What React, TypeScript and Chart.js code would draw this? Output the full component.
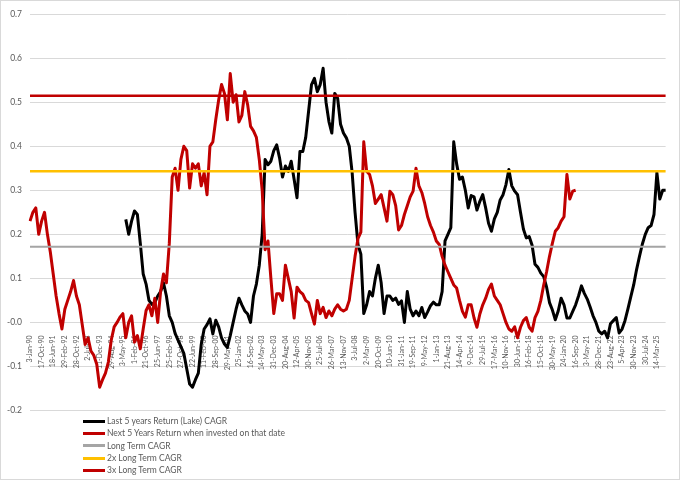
import React, { useEffect, useRef } from "react";
import { Chart, registerables } from "chart.js";

Chart.register(...registerables);

// one labelled date every STEPS points
const STEPS = 4;

const tickLabels = [
  "3-Jan-90", "17-Oct-90", "18-Jun-91", "29-Feb-92", "28-Oct-92", "2-Jul-93", "11-Dec-93", "29-Aug-94",
  "3-May-95", "1-Feb-96", "21-Oct-96", "25-Jun-97", "25-Feb-98", "27-Oct-98", "22-Jun-99", "11-Feb-00",
  "28-Sep-00", "29-May-01", "25-Jan-02", "16-Sep-02", "14-May-03", "31-Dec-03", "20-Aug-04", "12-Apr-05",
  "30-Nov-05", "25-Jul-06", "26-Mar-07", "13-Nov-07", "3-Jul-08", "2-Mar-09", "20-Oct-09", "10-Jun-10",
  "31-Jan-11", "19-Sep-11", "9-May-12", "1-Jan-13", "21-Aug-13", "14-Apr-14", "9-Dec-14", "29-Jul-15",
  "17-Mar-16", "10-Nov-16", "30-Jun-17", "16-Feb-18", "15-Oct-18", "30-May-19", "24-Jan-20", "16-Sep-20",
  "3-May-21", "28-Dec-21", "23-Aug-22", "5-Apr-23", "30-Nov-23", "30-Jul-24", "14-Mar-25",
];

// Last 5 years return (black), starts in 1995
const lastFiveYears: (number | null)[] = [
  ...Array(33).fill(null),
  0.234, 0.2, 0.23, 0.253, 0.245, 0.18, 0.11,
  0.087, 0.05, 0.041, 0.045, 0.06, 0.07, 0.09, 0.06, 0.015, 0.0,
  -0.025, -0.04, -0.055, -0.07, -0.105, -0.14, -0.147, -0.13, -0.115, -0.05,
  -0.015, -0.005, 0.008, -0.026, 0.005, -0.01, -0.035, -0.049, -0.057, -0.03,
  0.0, 0.03, 0.055, 0.04, 0.026, 0.019, 0.0, 0.06, 0.087, 0.13,
  0.2, 0.37, 0.358, 0.366, 0.39, 0.403, 0.373, 0.33, 0.355, 0.343,
  0.366, 0.325, 0.283, 0.388, 0.388, 0.42, 0.48, 0.54, 0.554, 0.524,
  0.54, 0.577, 0.5, 0.456, 0.43, 0.52, 0.509, 0.45, 0.43, 0.419,
  0.4, 0.34, 0.25, 0.177, 0.155, 0.02, 0.04, 0.07, 0.06, 0.1,
  0.13, 0.09, 0.02, 0.06, 0.06, 0.05, 0.055, 0.041, 0.049, 0.0,
  0.07, 0.03, 0.015, 0.026, 0.015, 0.034, 0.011, 0.024, 0.038, 0.046,
  0.04, 0.04, 0.07, 0.185, 0.2, 0.215, 0.41, 0.36, 0.325, 0.33,
  0.3, 0.26, 0.288, 0.285, 0.255, 0.275, 0.29, 0.26, 0.225, 0.207,
  0.235, 0.25, 0.278, 0.29, 0.313, 0.347, 0.31, 0.298, 0.29, 0.25,
  0.212, 0.192, 0.195, 0.175, 0.132, 0.125, 0.112, 0.104, 0.08, 0.045,
  0.028, 0.006, 0.026, 0.055, 0.04, 0.01, 0.01, 0.025, 0.04, 0.06,
  0.083, 0.066, 0.053, 0.035, 0.015, 0.0, -0.02, -0.026, -0.02, -0.035,
  -0.003, 0.004, 0.011, -0.024, -0.015, 0.004, 0.03, 0.058, 0.085, 0.12,
  0.15, 0.178, 0.2, 0.215, 0.22, 0.245, 0.34, 0.28, 0.3, 0.3,
];

// Next 5 years return (red), ends in 2020
const nextFiveYears: (number | null)[] = [
  0.23, 0.25, 0.26, 0.2, 0.23, 0.25, 0.2, 0.16, 0.11, 0.06,
  0.02, -0.015, 0.03, 0.05, 0.07, 0.095, 0.06, 0.04, -0.005, -0.05,
  -0.035, -0.065, -0.075, -0.095, -0.147, -0.13, -0.115, -0.09, -0.04, -0.01,
  0.0, 0.012, 0.02, -0.035, 0.0, 0.015, -0.045, -0.03, -0.06, -0.015,
  0.027, 0.04, 0.015, 0.055, 0.0, 0.07, 0.11, 0.09, 0.18, 0.33,
  0.35, 0.3, 0.37, 0.4, 0.39, 0.305, 0.36, 0.35, 0.36, 0.31,
  0.34, 0.29, 0.4, 0.41, 0.46, 0.505, 0.54, 0.52, 0.46, 0.565,
  0.5, 0.517, 0.455, 0.47, 0.524, 0.494, 0.445, 0.435, 0.42, 0.37,
  0.3, 0.165, 0.185, 0.1, 0.02, 0.065, 0.065, 0.05, 0.13, 0.1,
  0.07, 0.01, 0.08, 0.07, 0.064, 0.05, 0.045, 0.02, -0.004, 0.05,
  0.02, 0.034, 0.011, 0.026, 0.015, 0.03, 0.04, 0.03, 0.026, 0.03,
  0.05, 0.1, 0.15, 0.19, 0.205, 0.41, 0.343, 0.336, 0.31, 0.27,
  0.28, 0.29, 0.26, 0.23, 0.298, 0.29, 0.265, 0.21, 0.22, 0.245,
  0.265, 0.285, 0.298, 0.35, 0.31, 0.295, 0.27, 0.24, 0.22, 0.205,
  0.185, 0.177, 0.15, 0.13, 0.115, 0.1, 0.085, 0.078, 0.05, 0.025,
  0.012, 0.04, 0.04, 0.01, -0.011, 0.019, 0.04, 0.055, 0.075, 0.087,
  0.06, 0.05, 0.04, 0.02, 0.0, -0.015, -0.02, -0.01, -0.035, -0.011,
  0.004, 0.011, -0.011, -0.02, 0.011, 0.025, 0.05, 0.085, 0.115, 0.15,
  0.18, 0.207, 0.215, 0.23, 0.24, 0.336, 0.28, 0.298, 0.3,
  ...Array(31).fill(null),
];

const longTermCagr = 0.1715;

const seriesNames = [
  "Last 5 years Return (Lake) CAGR",
  "Next 5 Years Return when invested on that date",
  "Long Term CAGR",
  "2x Long Term CAGR",
  "3x Long Term CAGR",
];
const seriesColors = ["#000000", "#c00000", "#a5a5a5", "#ffc000", "#c00000"];

const FONT = "Lato, 'Open Sans', sans-serif";

export default function App() {
  const canvasRef = useRef<HTMLCanvasElement | null>(null);

  useEffect(() => {
    if (!canvasRef.current) return;
    const n = lastFiveYears.length;
    const labels = Array.from({ length: n }, (_, i) =>
      i % STEPS === 0 ? tickLabels[i / STEPS] ?? "" : ""
    );
    const flat = (v: number) => Array(n).fill(v);
    const levels = [longTermCagr, 2 * longTermCagr, 3 * longTermCagr];

    const chart = new Chart(canvasRef.current, {
      type: "line",
      data: {
        labels,
        datasets: [
          { label: seriesNames[0], data: lastFiveYears, borderColor: seriesColors[0], borderWidth: 3, order: 5 },
          { label: seriesNames[1], data: nextFiveYears, borderColor: seriesColors[1], borderWidth: 3, order: 4 },
          ...levels.map((v, k) => ({
            label: seriesNames[k + 2],
            data: flat(v),
            borderColor: seriesColors[k + 2],
            borderWidth: k === 0 ? 2 : 2.5,
            order: 3 - k,
          })),
        ],
      },
      options: {
        responsive: false,
        animation: false,
        events: [],
        layout: { padding: { top: 11, right: 11, bottom: 68.5, left: 0 } },
        elements: {
          point: { radius: 0 },
          line: { tension: 0, borderJoinStyle: "round", fill: false },
        },
        plugins: { legend: { display: false }, tooltip: { enabled: false } },
        scales: {
          x: {
            type: "category",
            position: { y: 0 },
            offset: false,
            grid: { display: false },
            border: { display: false },
            ticks: {
              autoSkip: false,
              minRotation: 90,
              maxRotation: 90,
              padding: 5,
              color: "#595959",
              font: { family: FONT, size: 7 },
            },
          },
          y: {
            min: -0.2,
            max: 0.7,
            ticks: {
              stepSize: 0.1,
              padding: 8,
              color: "#595959",
              font: { family: FONT, size: 8.5 },
            },
            grid: { color: "#d9d9d9", lineWidth: 1, drawTicks: false },
            border: { display: false },
            afterFit: (s: any) => {
              s.width = 29;
            },
          },
        },
      },
    });

    return () => {
      chart.destroy();
    };
  }, []);

  return (
    <div
      style={{
        position: "fixed",
        left: 0,
        top: 0,
        width: 680,
        height: 480,
        boxSizing: "border-box",
        border: "1px solid #d9d9d9",
        background: "#ffffff",
      }}
    >
      <canvas ref={canvasRef} width={678} height={478} style={{ display: "block" }} />
      <div style={{ position: "absolute", left: 82, top: 414 }}>
        {seriesNames.map((name, i) => (
          <div key={name} style={{ display: "flex", alignItems: "center", height: 12.3 }}>
            <span style={{ display: "inline-block", width: 22, height: 3, background: seriesColors[i] }} />
            <span style={{ marginLeft: 2, fontFamily: FONT, fontSize: 8.5, color: "#595959", whiteSpace: "nowrap" }}>
              {name}
            </span>
          </div>
        ))}
      </div>
    </div>
  );
}
